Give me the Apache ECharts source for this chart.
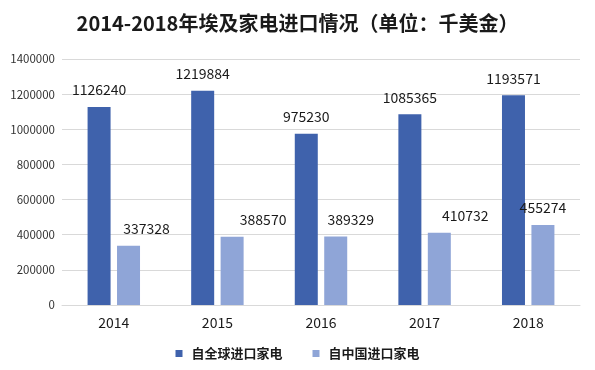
<!DOCTYPE html>
<html>
<head>
<meta charset="utf-8">
<script src="https://cdn.jsdelivr.net/npm/echarts@6/dist/echarts.min.js"></script>
<style>
html,body{margin:0;padding:0;background:#fff;}
#c{width:595px;height:370px;}
</style>
</head>
<body>
<div id="c"></div>
<script>
var titleText = '2014-2018年埃及家电进口情况（单位：千美金）';
var categories = ['2014', '2015', '2016', '2017', '2018'];
var seriesNames = ['自全球进口家电', '自中国进口家电'];
var globalImports = [1126240, 1219884, 975230, 1085365, 1193571];
var chinaImports = [337328, 388570, 389329, 410732, 455274];
var yTicks = [0, 200000, 400000, 600000, 800000, 1000000, 1200000, 1400000];

var FONT = '"Noto Sans CJK SC", "Noto Sans", sans-serif';
// label horizontal nudges for the second series (style only)
var chinaLabelShift = [18, 31, 15, 26, 0];

var chart = echarts.init(document.getElementById('c'), null, {renderer: 'canvas'});
chart.setOption({
  animation: false,
  backgroundColor: '#ffffff',
  title: {
    text: titleText,
    left: 'center',
    top: 8,
    textStyle: {fontFamily: FONT, fontSize: 20, fontWeight: 'bold', color: '#1a1a1a'}
  },
  legend: {
    bottom: 5,
    left: 'center',
    itemWidth: 7,
    itemHeight: 7,
    itemGap: 30,
    icon: 'rect',
    textStyle: {fontFamily: FONT, fontSize: 13, fontWeight: 'bold', color: '#1a1a1a', padding: [0, 0, 0, 4]},
    data: seriesNames
  },
  grid: {left: 62, right: 15, top: 59, bottom: 65, containLabel: false},
  xAxis: {
    type: 'category',
    data: categories,
    axisTick: {show: false},
    axisLine: {lineStyle: {color: '#d9d9d9'}},
    axisLabel: {fontFamily: FONT, fontSize: 14, color: '#1a1a1a', margin: 11}
  },
  yAxis: {
    type: 'value',
    min: yTicks[0],
    max: yTicks[yTicks.length - 1],
    interval: yTicks[1] - yTicks[0],
    axisLine: {show: false},
    axisTick: {show: false},
    splitLine: {lineStyle: {color: '#d9d9d9'}},
    axisLabel: {fontFamily: FONT, fontSize: 11.5, color: '#333', margin: 7,
      formatter: function (v) { return String(v); }}
  },
  series: [
    {
      name: seriesNames[0],
      type: 'bar',
      data: globalImports,
      barWidth: 23,
      barGap: '28%',
      itemStyle: {color: '#3F62AC'},
      label: {show: true, position: 'top', distance: 10, fontFamily: FONT, fontSize: 14, color: '#1a1a1a'}
    },
    {
      name: seriesNames[1],
      type: 'bar',
      data: chinaImports.map(function (v, i) {
        return {value: v, label: {offset: [chinaLabelShift[i], 0]}};
      }),
      barWidth: 23,
      barGap: '28%',
      itemStyle: {color: '#8FA5D7'},
      label: {show: true, position: 'top', distance: 10, fontFamily: FONT, fontSize: 14, color: '#1a1a1a'}
    }
  ]
});
</script>
</body>
</html>
